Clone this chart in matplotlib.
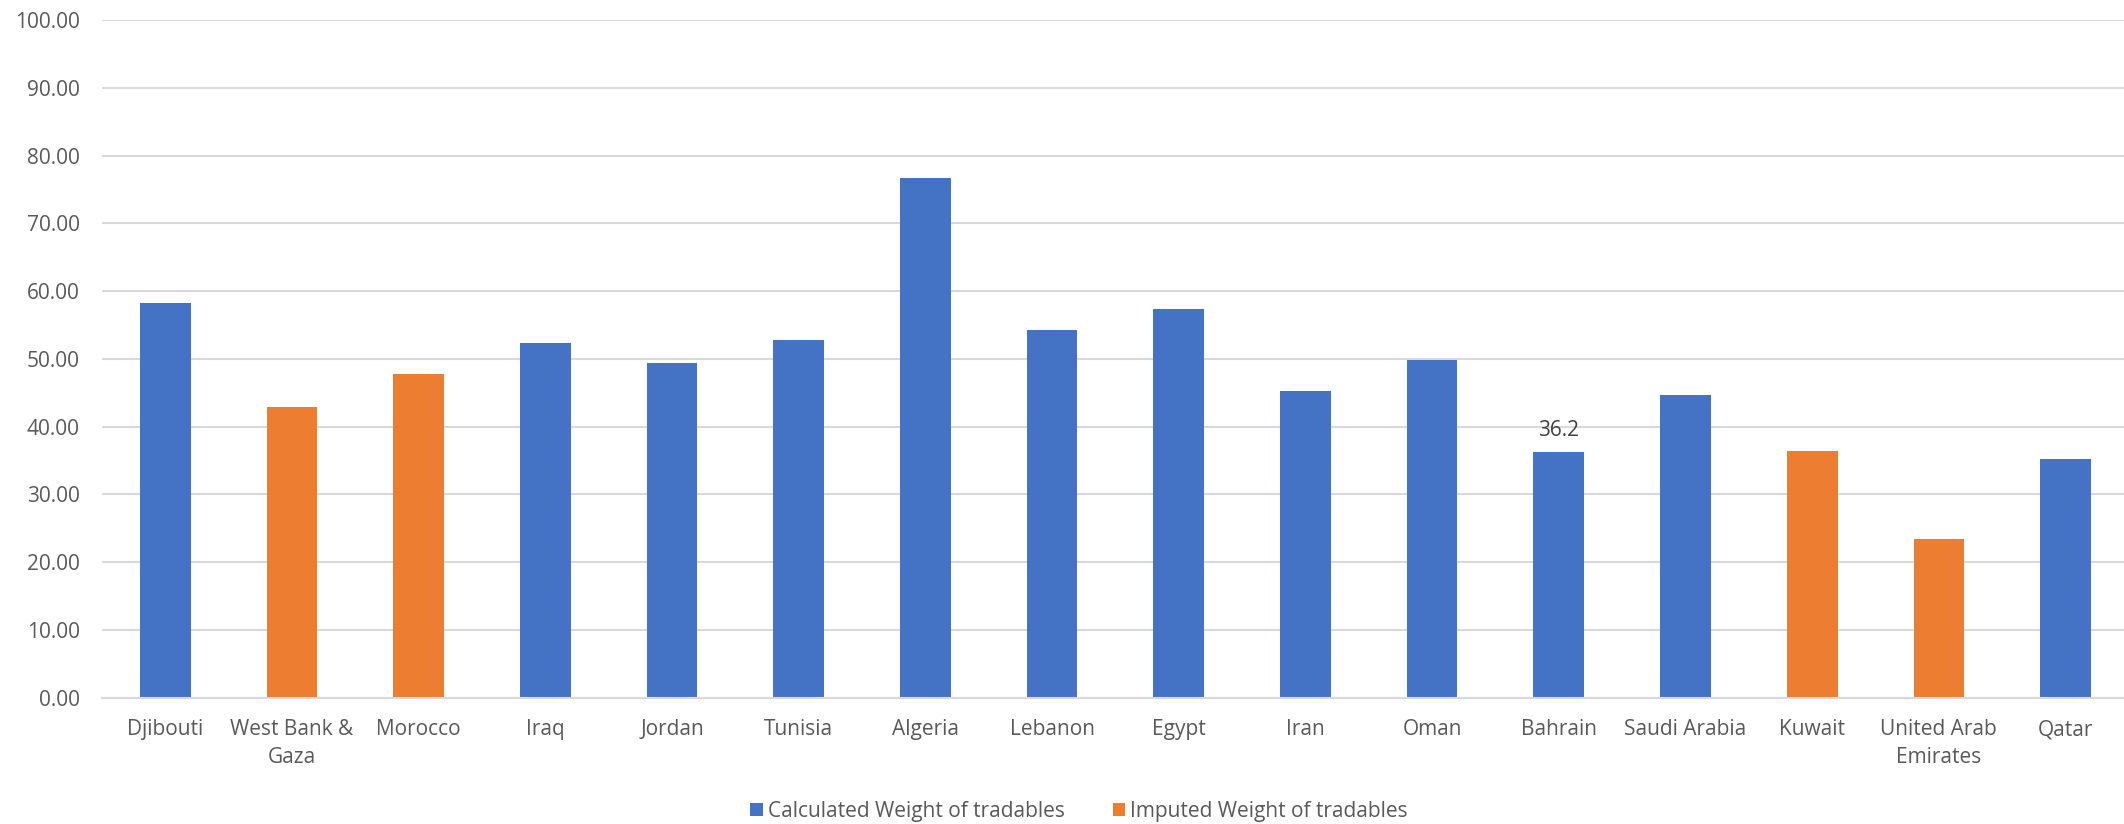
import matplotlib
matplotlib.use("Agg")
import matplotlib.pyplot as plt
import numpy as np

countries = ["Djibouti", "West Bank &\nGaza", "Morocco", "Iraq", "Jordan", "Tunisia",
             "Algeria", "Lebanon", "Egypt", "Iran", "Oman", "Bahrain", "Saudi Arabia",
             "Kuwait", "United Arab\nEmirates", "Qatar"]
weights = [58.3, 42.85, 47.7, 52.3, 49.4, 52.8, 76.7, 54.3, 57.4, 45.2, 49.8, 36.2,
           44.6, 36.45, 23.4, 35.2]
imputed = [False, True, True, False, False, False, False, False, False, False, False,
           False, False, True, True, False]
labeled = "Bahrain"
yticks = [0, 10, 20, 30, 40, 50, 60, 70, 80, 90, 100]

plt.rcParams['font.family'] = ['Open Sans', 'DejaVu Sans']
BLUE = "#4472C4"
ORANGE = "#ED7D31"
TXT = "#595959"
GRID = "#D9D9D9"
FS = 15

fig = plt.figure(figsize=(21.24, 8.24), dpi=100)
ax = fig.add_axes([0.048, 0.1535, 0.9543, 0.8222])

x = np.arange(len(countries))
w = np.array(weights)
imp = np.array(imputed)
calc_vals = np.where(~imp, w, np.nan)
imp_vals = np.where(imp, w, np.nan)
b1 = ax.bar(x, calc_vals, width=0.40, color=BLUE, label="Calculated Weight of tradables", zorder=3)
b2 = ax.bar(x, imp_vals, width=0.40, color=ORANGE, label="Imputed Weight of tradables", zorder=3)

i = [c.replace("\n", " ") for c in countries].index(labeled)
ax.text(x[i], w[i] + 1.6, f"{w[i]:.1f}", ha="center", va="bottom", fontsize=FS, color="#404040")

ax.set_xlim(-0.5, len(countries) - 0.5)
ax.set_ylim(0, 100)
ax.set_yticks(yticks)
ax.set_yticklabels([f"{v:.2f}" for v in yticks])
ax.set_xticks(x)
ax.set_xticklabels(countries, linespacing=1.45)
ax.tick_params(axis="both", length=0, labelsize=FS, colors=TXT)
ax.tick_params(axis="x", pad=15.5)
ax.tick_params(axis="y", pad=16)
ax.yaxis.grid(True, color=GRID, linewidth=1.5, zorder=0)
for s in ["top", "right", "left"]:
    ax.spines[s].set_visible(False)
ax.spines["bottom"].set_color(GRID)
ax.spines["bottom"].set_linewidth(1.5)
ax.spines["bottom"].set_zorder(4)

leg = fig.legend(handles=[b1, b2], loc="center", bbox_to_anchor=(0.508, 0.015), ncol=2,
                 frameon=False, fontsize=FS, handlelength=0.6, handleheight=0.6,
                 handletextpad=0.25, columnspacing=2.3)
for t in leg.get_texts():
    t.set_color(TXT)

fig.savefig("out.png", dpi=100)
